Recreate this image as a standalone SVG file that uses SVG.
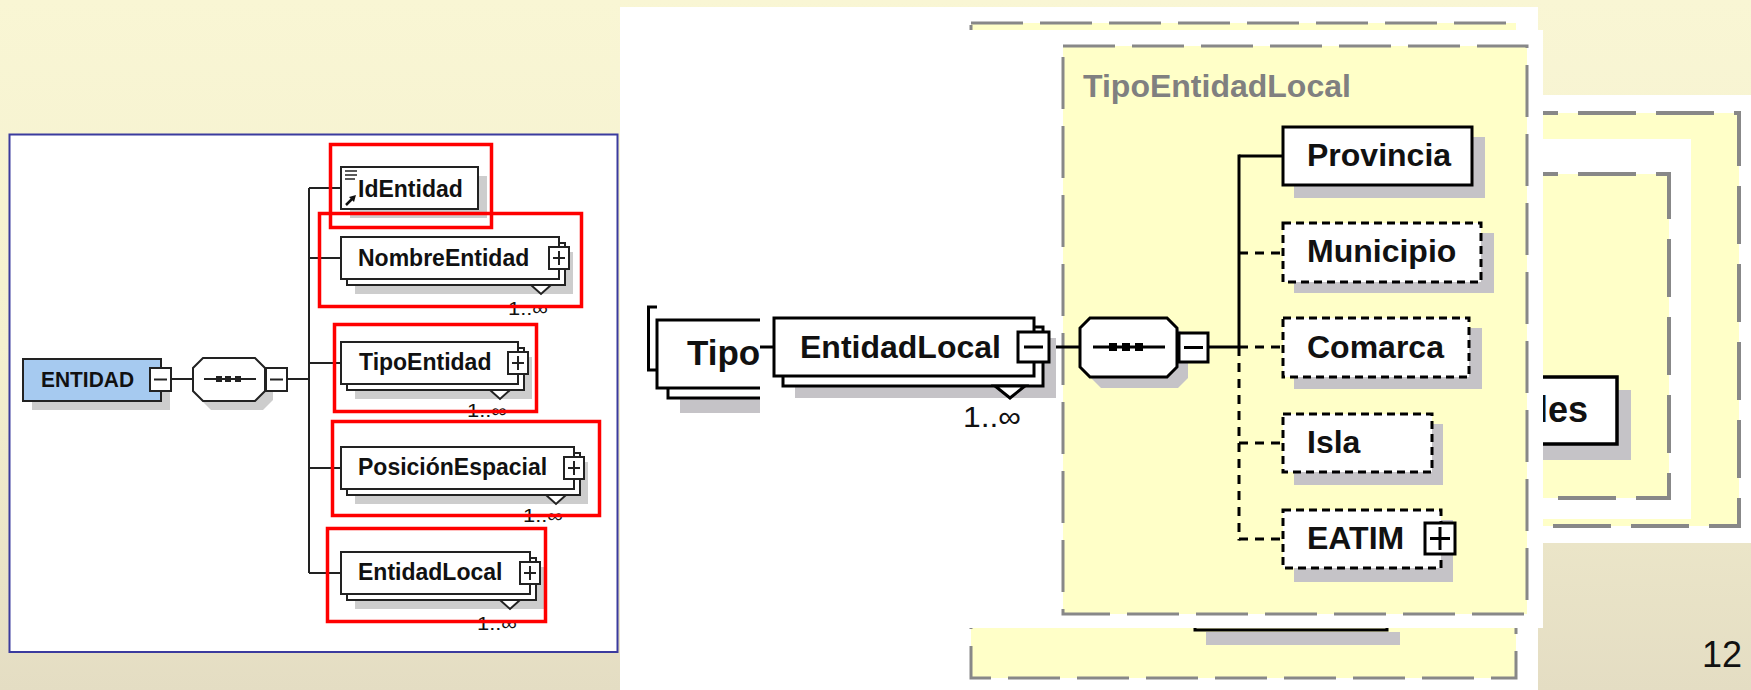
<svg xmlns="http://www.w3.org/2000/svg" width="1751" height="690" viewBox="0 0 1751 690">
<defs>
<linearGradient id="bg" x1="0" y1="0" x2="0" y2="1">
<stop offset="0" stop-color="#F9F6D4"/>
<stop offset="0.5" stop-color="#F4F0CF"/>
<stop offset="1" stop-color="#E4DDC3"/>
</linearGradient>
<clipPath id="clipTipo"><rect x="640" y="290" width="120" height="140"/></clipPath>
<clipPath id="clipLes"><rect x="1543" y="95" width="208" height="448"/></clipPath>
<style>
.lbl{font-family:"Liberation Sans",Arial,sans-serif;font-weight:bold;fill:#111}
.s23{font-size:23px}
.s32{font-size:32px}
.card{font-family:"Liberation Sans",Arial,sans-serif;fill:#111}
.lbox{fill:#fff;stroke:#222;stroke-width:2}
.lsh{fill:#CDCDCD}
.lline{stroke:#222;stroke-width:2;fill:none}
.red{fill:none;stroke:#FF0000;stroke-width:3.5}
.mbox{fill:#fff;stroke:#000;stroke-width:3}
.mdash{fill:#fff;stroke:#000;stroke-width:3;stroke-dasharray:8 5}
.msh{fill:#C5C3C7}
.mline{stroke:#000;stroke-width:3;fill:none}
.mline-d{stroke:#000;stroke-width:3;fill:none;stroke-dasharray:9 7}
.ybox{fill:#FFFFC8;stroke:#888;stroke-width:3;stroke-dasharray:52 17}
.ybox3{fill:#FFFFC8;stroke:#888;stroke-width:4;stroke-dasharray:58 20}
.white{fill:#fff}
</style>
</defs>

<rect x="0" y="0" width="1751" height="690" fill="url(#bg)"/>

<!-- ============ LEFT PANEL ============ -->
<g id="left-panel">
<rect x="9.5" y="134.5" width="608" height="517.5" fill="#fff" stroke="#3B3B9E" stroke-width="2"/>

<g id="left-connectors">
<line class="lline" x1="171" y1="379" x2="193" y2="379"/>
<line class="lline" x1="287" y1="379" x2="309" y2="379"/>
<line class="lline" x1="309" y1="188" x2="309" y2="573"/>
<line class="lline" x1="309" y1="188" x2="341" y2="188"/>
<line class="lline" x1="309" y1="258" x2="341" y2="258"/>
<line class="lline" x1="309" y1="363" x2="341" y2="363"/>
<line class="lline" x1="309" y1="468" x2="341" y2="468"/>
<line class="lline" x1="309" y1="573" x2="341" y2="573"/>
</g>

<g id="ENTIDAD">
<rect class="lsh" x="32" y="368" width="138" height="42"/>
<rect x="23" y="359" width="138" height="42" fill="#A6CAF0" stroke="#222" stroke-width="2"/>
<text class="lbl" x="41" y="387" font-size="22" textLength="93" lengthAdjust="spacingAndGlyphs">ENTIDAD</text>
<rect class="lbox" x="150" y="368" width="21" height="23"/>
<line class="lline" x1="154" y1="379.5" x2="167" y2="379.5"/>
</g>

<g id="sequence-left">
<polygon class="lsh" points="211,367 263,367 273,377 273,400 263,410 211,410 201,400 201,377"/>
<polygon points="203,358 255,358 265,368 265,391 255,401 203,401 193,391 193,368" fill="#fff" stroke="#222" stroke-width="2"/>
<line class="lline" x1="204" y1="379" x2="256" y2="379"/>
<rect x="216" y="376" width="6" height="6" fill="#222"/>
<rect x="225" y="376" width="6" height="6" fill="#222"/>
<rect x="235" y="376" width="6" height="6" fill="#222"/>
<rect class="lbox" x="266" y="368" width="21" height="23"/>
<line class="lline" x1="270" y1="379.5" x2="283" y2="379.5"/>
</g>

<g id="IdEntidad">
<rect class="lsh" x="350" y="176" width="137" height="42"/>
<rect class="lbox" x="341" y="167" width="137" height="42"/>
<line x1="345" y1="171" x2="357" y2="171" stroke="#222" stroke-width="1.5"/>
<line x1="345" y1="175" x2="357" y2="175" stroke="#222" stroke-width="1.5"/>
<line x1="345" y1="179" x2="355" y2="179" stroke="#222" stroke-width="1.5"/>
<line x1="346" y1="205" x2="352" y2="199" stroke="#111" stroke-width="2.5"/>
<polygon points="356,195 349,197 354,202" fill="#111"/>
<text class="lbl s23" x="358" y="197">IdEntidad</text>
</g>

<g id="NombreEntidad" transform="translate(341,237)">
<rect class="lsh" x="14" y="15" width="218" height="42"/>
<rect class="lbox" x="6" y="6" width="218" height="42"/>
<rect class="lbox" x="0" y="0" width="218" height="42"/>
<polygon class="lbox" points="190,48 210,48 200,57"/>
<rect class="lbox" x="208" y="10" width="20" height="22"/>
<line class="lline" x1="212" y1="21" x2="224" y2="21"/><line class="lline" x1="218" y1="14" x2="218" y2="28"/>
<text class="lbl s23" x="17" y="29">NombreEntidad</text>
<text class="card" x="167" y="78" font-size="18" textLength="40" lengthAdjust="spacingAndGlyphs">1..∞</text>
</g>

<g id="TipoEntidad" transform="translate(341,342)">
<rect class="lsh" x="14" y="15" width="177" height="42"/>
<rect class="lbox" x="6" y="6" width="177" height="42"/>
<rect class="lbox" x="0" y="0" width="177" height="42"/>
<polygon class="lbox" points="149,48 169,48 159,57"/>
<rect class="lbox" x="167" y="10" width="20" height="22"/>
<line class="lline" x1="171" y1="21" x2="183" y2="21"/><line class="lline" x1="177" y1="14" x2="177" y2="28"/>
<text class="lbl s23" x="18" y="28">TipoEntidad</text>
<text class="card" x="126" y="75" font-size="18" textLength="40" lengthAdjust="spacingAndGlyphs">1..∞</text>
</g>

<g id="PosicionEspacial" transform="translate(341,447)">
<rect class="lsh" x="14" y="15" width="233" height="42"/>
<rect class="lbox" x="6" y="6" width="233" height="42"/>
<rect class="lbox" x="0" y="0" width="233" height="42"/>
<polygon class="lbox" points="205,48 225,48 215,57"/>
<rect class="lbox" x="223" y="10" width="20" height="22"/>
<line class="lline" x1="227" y1="21" x2="239" y2="21"/><line class="lline" x1="233" y1="14" x2="233" y2="28"/>
<text class="lbl s23" x="17" y="28">PosiciónEspacial</text>
<text class="card" x="182" y="75" font-size="18" textLength="40" lengthAdjust="spacingAndGlyphs">1..∞</text>
</g>

<g id="EntidadLocal-left" transform="translate(341,552)">
<rect class="lsh" x="14" y="15" width="189" height="42"/>
<rect class="lbox" x="6" y="6" width="189" height="42"/>
<rect class="lbox" x="0" y="0" width="189" height="42"/>
<polygon class="lbox" points="159,48 179,48 169,57"/>
<rect class="lbox" x="179" y="10" width="20" height="22"/>
<line class="lline" x1="183" y1="21" x2="195" y2="21"/><line class="lline" x1="189" y1="14" x2="189" y2="28"/>
<text class="lbl s23" x="17" y="28">EntidadLocal</text>
<text class="card" x="136" y="78" font-size="18" textLength="40" lengthAdjust="spacingAndGlyphs">1..∞</text>
</g>

<g id="red-highlights">
<rect class="red" x="330.5" y="144.5" width="161" height="83"/>
<rect class="red" x="319.5" y="213.5" width="262" height="93"/>
<rect class="red" x="334.5" y="324.5" width="202" height="87"/>
<rect class="red" x="332.5" y="421.5" width="267" height="94"/>
<rect class="red" x="327.5" y="528.5" width="218" height="93"/>
</g>
</g>

<!-- ============ LAYER 1 (back screenshot) ============ -->
<g id="layer1">
<rect class="white" x="620" y="7" width="918" height="683"/>
<rect class="ybox" x="971" y="23" width="545" height="655"/>
<rect class="msh" x="1206" y="632" width="194" height="13"/>
<polyline class="mline" points="1195,622 1195,630 1387,630 1387,622"/>
</g>

<!-- ============ Tipo fragment ============ -->
<g id="Tipo-fragment" clip-path="url(#clipTipo)">
<rect class="msh" x="680" y="398" width="110" height="15"/>
<rect class="mbox" x="668" y="330" width="130" height="68"/>
<rect class="mbox" x="657" y="320" width="130" height="68"/>
<polyline class="mline" points="657,307 648.5,307 648.5,370 657,370"/>
<text class="lbl" x="687" y="365" font-size="35">Tipo</text>
</g>

<!-- ============ LAYER 3 (right screenshot) ============ -->
<g id="layer3">
<rect class="white" x="1530" y="95" width="221" height="448"/>
<rect class="ybox3" x="1500" y="113" width="239" height="413"/>
<rect class="white" x="1500" y="139" width="191" height="380"/>
<rect class="ybox3" x="1500" y="174" width="169" height="324"/>
<g id="les-node">
<rect class="msh" x="1520" y="390" width="111" height="70"/>
<rect x="1500" y="377" width="117" height="67" fill="#fff" stroke="#000" stroke-width="3.5"/>
<text class="lbl" x="1538" y="422" font-size="36" clip-path="url(#clipLes)">les</text>
</g>
</g>

<!-- ============ LAYER 2 (main screenshot) ============ -->
<g id="layer2">
<rect class="white" x="760" y="30" width="783" height="598"/>
<rect class="ybox" x="1063" y="46" width="464" height="568"/>
<text class="lbl s32" x="1083" y="97" fill="#808080" style="fill:#808080">TipoEntidadLocal</text>

<g id="connectors">
<line class="mline" x1="760" y1="347" x2="774" y2="347"/>
<line class="mline" x1="1049" y1="347" x2="1080" y2="347"/>
<line class="mline" x1="1208" y1="347" x2="1239" y2="347"/>
<line class="mline" x1="1239" y1="154.5" x2="1239" y2="347"/>
<line class="mline-d" x1="1239" y1="347" x2="1239" y2="540.5"/>
<line class="mline" x1="1239" y1="156" x2="1283" y2="156"/>
<line class="mline-d" x1="1239" y1="253" x2="1283" y2="253"/>
<line class="mline-d" x1="1239" y1="347" x2="1283" y2="347"/>
<line class="mline-d" x1="1239" y1="443" x2="1283" y2="443"/>
<line class="mline-d" x1="1239" y1="539" x2="1283" y2="539"/>
</g>

<g id="EntidadLocal" transform="translate(774,318)">
<rect class="msh" x="21" y="20" width="261" height="60"/>
<rect class="mbox" x="9" y="9" width="260" height="59"/>
<rect class="mbox" x="0" y="0" width="260" height="58"/>
<polygon class="mbox" points="221,68 251,68 236,80"/>
<rect class="mbox" x="244" y="14" width="31" height="30"/>
<line class="mline" x1="250" y1="29" x2="269" y2="29"/>
<text class="lbl s32" x="26" y="40">EntidadLocal</text>
<text class="card" x="189" y="109" font-size="30" textLength="58" lengthAdjust="spacingAndGlyphs">1..∞</text>
</g>

<g id="sequence">
<polygon class="msh" points="1101,329 1178,329 1188,339 1188,378 1178,388 1101,388 1091,378 1091,339"/>
<polygon points="1090,318 1167,318 1177,328 1177,367 1167,377 1090,377 1080,367 1080,328" fill="#fff" stroke="#000" stroke-width="3"/>
<line class="mline" x1="1093" y1="347" x2="1165" y2="347"/>
<rect x="1109" y="343" width="8" height="8" fill="#000"/>
<rect x="1122" y="343" width="8" height="8" fill="#000"/>
<rect x="1135" y="343" width="8" height="8" fill="#000"/>
<rect class="mbox" x="1179" y="333" width="29" height="29"/>
<line class="mline" x1="1184" y1="347.5" x2="1203" y2="347.5"/>
</g>

<g id="Provincia">
<rect class="msh" x="1294" y="137" width="191" height="61"/>
<rect class="mbox" x="1283" y="127" width="189" height="58"/>
<text class="lbl s32" x="1307" y="166">Provincia</text>
</g>
<g id="Municipio">
<rect class="msh" x="1294" y="233" width="200" height="60"/>
<rect class="mdash" x="1283" y="223" width="198" height="59"/>
<text class="lbl s32" x="1307" y="262">Municipio</text>
</g>
<g id="Comarca">
<rect class="msh" x="1294" y="328" width="188" height="61"/>
<rect class="mdash" x="1283" y="318" width="186" height="59"/>
<text class="lbl s32" x="1307" y="358">Comarca</text>
</g>
<g id="Isla">
<rect class="msh" x="1294" y="424" width="149" height="61"/>
<rect class="mdash" x="1283" y="414" width="149" height="58"/>
<text class="lbl s32" x="1307" y="453">Isla</text>
</g>
<g id="EATIM">
<rect class="msh" x="1294" y="520" width="159" height="62"/>
<rect class="mdash" x="1283" y="510" width="158" height="58"/>
<rect class="mbox" x="1425" y="523" width="30" height="31"/>
<line class="mline" x1="1430" y1="538.5" x2="1450" y2="538.5"/>
<line class="mline" x1="1440" y1="527" x2="1440" y2="550"/>
<text class="lbl s32" x="1307" y="549">EATIM</text>
</g>
</g>

<text id="page-number" x="1702" y="667" font-family="'Liberation Sans',Arial,sans-serif" font-size="36" fill="#111">12</text>
</svg>
